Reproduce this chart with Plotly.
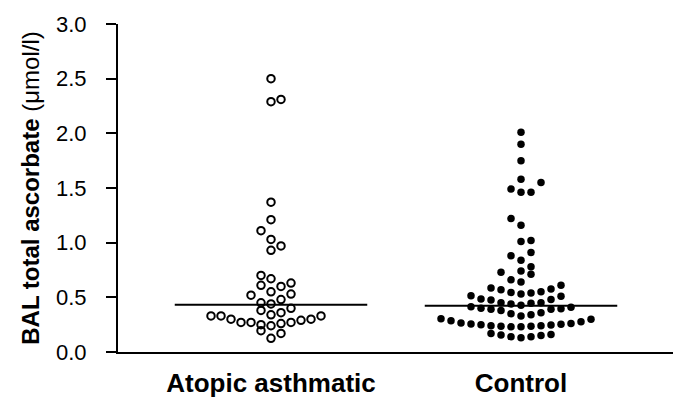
import numpy as np
import plotly.graph_objects as go

# ---- data ----
groups = ["Atopic asthmatic", "Control"]

atopic = [0.125, 0.17, 0.195,
          0.24, 0.25, 0.26, 0.27, 0.27, 0.27, 0.29, 0.30, 0.30, 0.33, 0.33, 0.33,
          0.34, 0.36, 0.38, 0.40,
          0.44, 0.45, 0.48, 0.52, 0.53,
          0.55, 0.60, 0.61, 0.63,
          0.67, 0.70,
          0.93, 0.97,
          1.03, 1.11,
          1.21, 1.37,
          2.29, 2.31, 2.50]

control = [0.13, 0.14, 0.14, 0.15, 0.155, 0.16, 0.17,
           0.23, 0.23, 0.235, 0.235, 0.24, 0.24, 0.247, 0.25, 0.253, 0.256, 0.26,
           0.265, 0.277, 0.286, 0.30, 0.305,
           0.33, 0.34, 0.35, 0.36, 0.38, 0.39, 0.39, 0.396, 0.40, 0.41, 0.415,
           0.427, 0.44, 0.445, 0.45, 0.45, 0.476, 0.48, 0.485, 0.51, 0.515,
           0.53, 0.54, 0.545, 0.55, 0.57, 0.576, 0.585, 0.61,
           0.64, 0.66, 0.71, 0.73,
           0.74, 0.78,
           0.84, 0.88, 0.91,
           1.01, 1.02,
           1.16, 1.22,
           1.46, 1.46, 1.49, 1.55,
           1.58, 1.75, 1.90, 2.01]

medians = [0.433, 0.424]
y_ticks = [0.0, 0.5, 1.0, 1.5, 2.0, 2.5, 3.0]


def swarm(values, center, row_height=0.095, step=0.04):
    """Beeswarm: bin sorted values into rows, spread each row around the centre,
    alternating the side that is filled first from row to row."""
    v = np.sort(np.asarray(values, float))
    xs = []
    row_start = None
    row_idx = -1
    k = 0
    for val in v:
        if row_start is None or val - row_start >= row_height - 1e-9:
            row_start = val
            row_idx += 1
            k = 0
        if k == 0:
            slot = 0
        else:
            mag = (k + 1) // 2
            first = 1 if row_idx % 2 == 0 else -1
            slot = first * mag if k % 2 == 1 else -first * mag
        xs.append(center + slot * step)
        k += 1
    return np.array(xs), v


fig = go.Figure()

ax, ay = swarm(atopic, 0)
cx, cy = swarm(control, 1)

fig.add_trace(go.Scatter(
    x=ax, y=ay, mode="markers",
    marker=dict(symbol="circle-open", size=7.5, color="black", line=dict(width=2, color="black")),
    showlegend=False, cliponaxis=False))
fig.add_trace(go.Scatter(
    x=cx, y=cy, mode="markers",
    marker=dict(symbol="circle", size=7.5, color="black"),
    showlegend=False, cliponaxis=False))

half = 0.385
for i, m in enumerate(medians):
    fig.add_trace(go.Scatter(
        x=[i - half, i + half], y=[m, m], mode="lines",
        line=dict(color="black", width=2), showlegend=False))

fig.update_layout(
    width=673, height=397,
    margin=dict(l=118, r=0, t=24, b=45, autoexpand=False),
    paper_bgcolor="white", plot_bgcolor="white",
    font=dict(family="Liberation Sans, Arial, sans-serif", color="black"),
)

fig.update_xaxes(
    range=[-0.612, 1.608],
    tickvals=[0, 1], ticktext=["<b>%s</b>" % g for g in groups],
    tickfont=dict(size=26),
    showline=True, linecolor="black", linewidth=2,
    ticks="", showgrid=False, zeroline=False,
    ticklabelstandoff=7, automargin=False,
)

fig.update_yaxes(
    range=[0, 3],
    tickvals=y_ticks, ticktext=["%.1f" % t for t in y_ticks],
    tickfont=dict(size=22),
    showline=True, linecolor="black", linewidth=2,
    ticks="outside", ticklen=10, tickwidth=1.5, tickcolor="black",
    showgrid=False, zeroline=False,
    ticklabelstandoff=15, automargin=False,
    title=dict(text="<b>BAL total ascorbate</b> (μmol/l)", font=dict(size=24), standoff=10),
)

fig.write_html("out.html")
